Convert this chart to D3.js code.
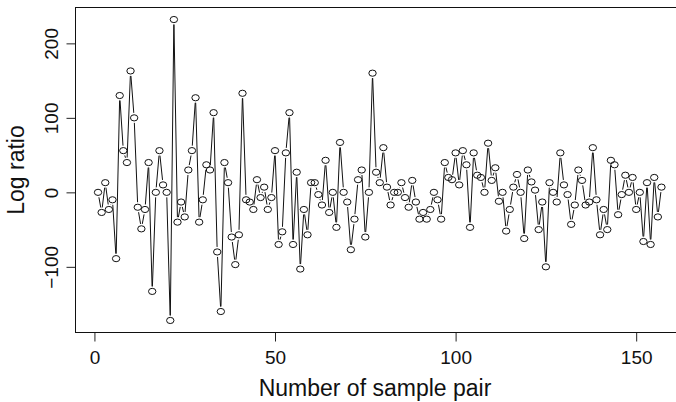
<!DOCTYPE html>
<html>
<head>
<meta charset="utf-8">
<script src="https://cdn.jsdelivr.net/npm/d3@7"></script>
<style>
  body { margin: 0; background: #fff; }
  svg { display: block; }
  text { font-family: "Liberation Sans", Arial, Helvetica, sans-serif; fill: #111; }
</style>
</head>
<body>
<script>
// Log ratio per sample pair (pair number = position + 1)
var logRatio = [
  0, -27, 13, -23, -10, -89, 130, 56, 40, 163,
  100, -20, -49, -23, 40, -133, 0, 56, 10, 0,
  -172, 232, -40, -13, -33, 30, 56, 127, -40, -10,
  37, 30, 107, -80, -160, 40, 13, -60, -97, -57,
  133, -10, -13, -23, 17, -7, 7, -23, -7, 56,
  -70, -53, 53, 107, -70, 27, -103, -23, -57, 13,
  13, -3, -17, 43, -27, 0, -47, 67, 0, -13,
  -77, -36, 17, 30, -60, 0, 160, 27, 13, 60,
  7, -17, 0, 0, 13, -7, -20, 16, -13, -36,
  -27, -36, -23, 0, -10, -36, 40, 20, 17, 53,
  10, 56, 37, -47, 53, 23, 20, 0, 66, 16,
  33, -12, 0, -52, -23, 7, 24, 0, -62, 30,
  14, 3, -50, -13, -100, 13, 0, -13, 53, 10,
  -3, -43, -17, 30, 16, -17, -13, 60, -10, -57,
  -23, -50, 43, 37, -30, -3, 23, 0, 20, -23,
  0, -66, 13, -70, 20, -33, 7
];
var xTicks = [0, 50, 100, 150];
var yTicks = [-100, 0, 100, 200];
var xTitle = 'Number of sample pair';
var yTitle = 'Log ratio';

function logPlot() {
  var w = 676, h = 402;
  var plotL = 75.5, plotR = 684, plotT = 7.5, plotB = 332.5;

  var svg = d3.select('body').append('svg')
      .attr('width', w)
      .attr('height', h);

  // R style axis limits: data range widened by 4% on each side
  var n = logRatio.length;
  var xPad = 0.04 * (n - 1);
  var x = d3.scaleLinear()
      .domain([1 - xPad, n + xPad])
      .range([plotL, plotR]);

  var yMin = d3.min(logRatio), yMax = d3.max(logRatio);
  var yPad = 0.04 * (yMax - yMin);
  var y = d3.scaleLinear()
      .domain([yMin - yPad, yMax + yPad])
      .range([plotB, plotT]);

  // axes
  var xAxis = svg.append('g')
      .attr('transform', 'translate(0,' + plotB + ')')
      .call(d3.axisBottom(x).tickValues(xTicks).tickSize(9).tickPadding(9));
  xAxis.select('.domain').remove();
  xAxis.selectAll('line').attr('stroke', '#222');
  xAxis.selectAll('text')
      .attr('font-size', '19px')
      .attr('font-family', null)
      .attr('fill', '#111');

  var yAxis = svg.append('g')
      .attr('transform', 'translate(' + plotL + ',0)')
      .call(d3.axisLeft(y).tickValues(yTicks).tickSize(9));
  yAxis.select('.domain').remove();
  yAxis.selectAll('line').attr('stroke', '#222');
  yAxis.selectAll('text')
      .attr('x', null)
      .attr('dy', null)
      .attr('text-anchor', 'middle')
      .attr('transform', 'translate(-18,0) rotate(-90)')
      .attr('font-size', '19px')
      .attr('font-family', null)
      .attr('fill', '#111')
      .text(function(d) { return d < 0 ? '\u2212' + Math.abs(d) : d; });

  // box round the plot
  svg.append('rect')
      .attr('x', plotL)
      .attr('y', plotT)
      .attr('width', plotR - plotL)
      .attr('height', plotB - plotT)
      .attr('fill', 'none')
      .attr('stroke', '#111')
      .attr('stroke-width', 1);

  // type = "b": segments stop short of each point
  var gap = 5;
  var pts = logRatio.map(function(v, i) { return [x(i + 1), y(v)]; });
  var segs = [];
  for (var i = 0; i < pts.length - 1; i++) {
    var a = pts[i], b = pts[i + 1];
    var dx = b[0] - a[0], dy = b[1] - a[1];
    var len = Math.sqrt(dx * dx + dy * dy);
    if (len <= 2 * gap) continue;
    var ux = dx / len, uy = dy / len;
    segs.push([a[0] + ux * gap, a[1] + uy * gap, b[0] - ux * gap, b[1] - uy * gap]);
  }

  svg.append('g').selectAll('line')
      .data(segs)
      .enter()
      .append('line')
      .attr('x1', function(d) { return d[0]; })
      .attr('y1', function(d) { return d[1]; })
      .attr('x2', function(d) { return d[2]; })
      .attr('y2', function(d) { return d[3]; })
      .attr('stroke', '#111')
      .attr('stroke-width', 1);

  svg.append('g').selectAll('ellipse')
      .data(logRatio)
      .enter()
      .append('ellipse')
      .attr('cx', function(d, i) { return x(i + 1); })
      .attr('cy', function(d) { return y(d); })
      .attr('rx', 3.7)
      .attr('ry', 3.1)
      .attr('fill', 'none')
      .attr('stroke', '#111')
      .attr('stroke-width', 1);

  // axis titles
  svg.append('text')
      .attr('x', 375)
      .attr('y', 396)
      .attr('text-anchor', 'middle')
      .attr('font-size', '23px')
      .text(xTitle);

  svg.append('text')
      .attr('transform', 'translate(24,' + ((plotT + plotB) / 2) + ') rotate(-90)')
      .attr('text-anchor', 'middle')
      .attr('font-size', '23px')
      .text(yTitle);
}

logPlot();
</script>
</body>
</html>
